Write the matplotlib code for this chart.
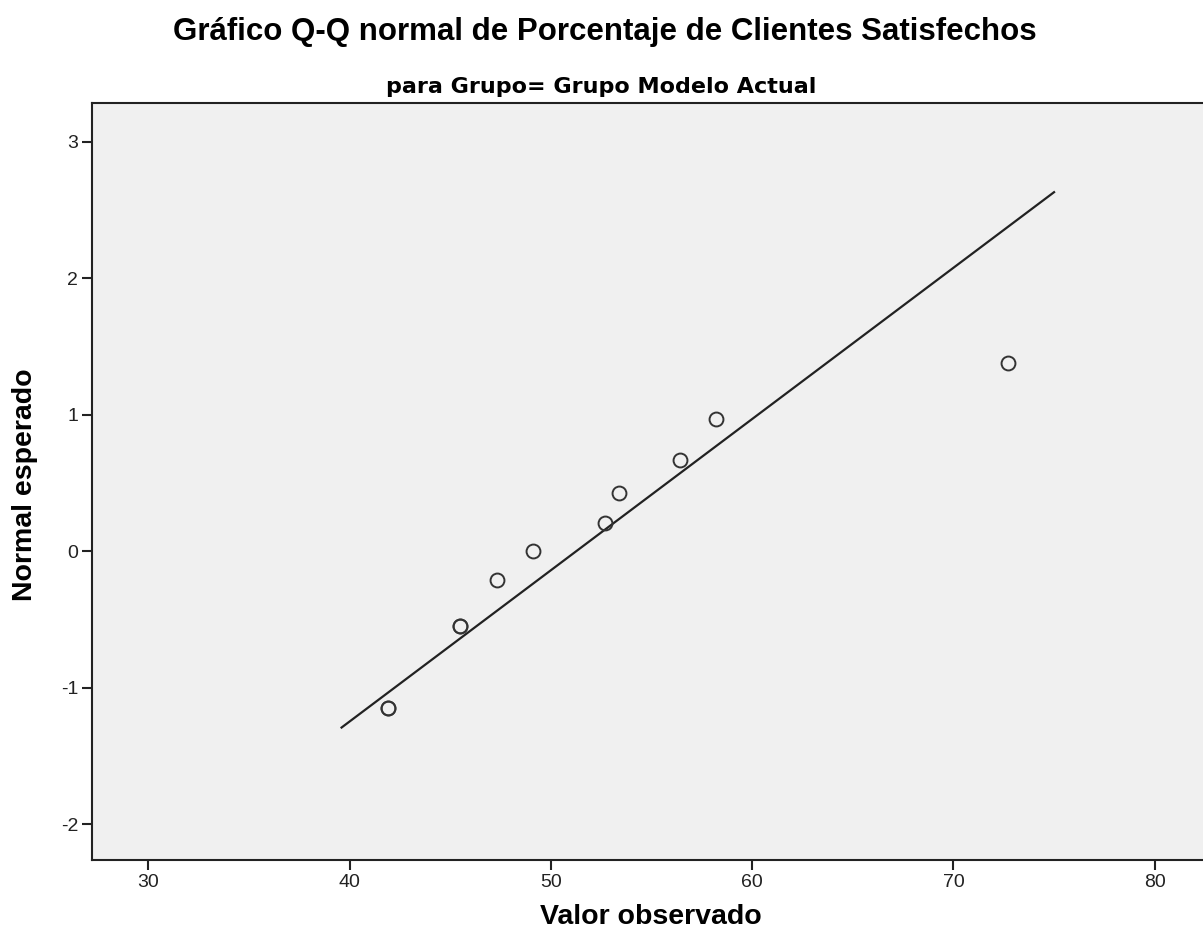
import matplotlib
matplotlib.use("Agg")
import matplotlib.pyplot as plt

observed = [41.9, 41.9, 45.5, 45.5, 47.3, 49.1, 52.7, 53.4, 56.4, 58.2, 72.7]
expected = [-1.15, -1.15, -0.55, -0.55, -0.21, 0.0, 0.21, 0.43, 0.67, 0.97, 1.38]

# reference line endpoints
line_x = [39.6, 75.0]
line_y = [-1.29, 2.63]

x_ticks = [30, 40, 50, 60, 70, 80]
y_ticks = [-2, -1, 0, 1, 2, 3]

plt.rcParams["font.family"] = ["Liberation Sans", "DejaVu Sans"]
plt.rcParams["axes.unicode_minus"] = False

fig = plt.figure(figsize=(12.03, 9.47), dpi=100)
W, H = 1203, 947
ax = fig.add_axes([92 / W, 1 - 860 / H, (1205 - 92) / W, (860 - 103) / H])
ax.set_facecolor("#f0f0f0")

ax.plot(line_x, line_y, color="#222222", linewidth=1.6, zorder=2)
ax.plot(observed, expected, linestyle="none", marker="o", markersize=10,
        markerfacecolor="none", markeredgecolor="#333333", markeredgewidth=1.4, zorder=3)

ax.set_xlim(27.2, 82.5)
ax.set_ylim(-2.26, 3.283)
ax.set_xticks(x_ticks)
ax.set_yticks(y_ticks)
ax.tick_params(direction="out", length=7, width=1.5, color="#222222",
               labelsize=14, labelcolor="#222222", pad=3)
for side in ["left", "bottom", "top"]:
    ax.spines[side].set_linewidth(1.5)
    ax.spines[side].set_color("#222222")
ax.spines["right"].set_visible(False)

fig.text(651 / W, 1 - 917 / H, "Valor observado", ha="center", va="center",
         fontsize=20.5, fontweight="bold")
fig.text(25 / W, 1 - 485 / H, "Normal esperado", ha="center", va="center",
         rotation=90, fontsize=20.5, fontweight="bold")

fig.text(605 / W, 1 - 32 / H, "Gráfico Q-Q normal de Porcentaje de Clientes Satisfechos",
         ha="center", va="center", fontsize=22.5, fontweight="bold")
fig.text(601 / W, 1 - 87 / H, "para Grupo= Grupo Modelo Actual",
         ha="center", va="center", fontsize=16, fontweight="bold",
         family=["DejaVu Sans"])

fig.savefig("out.png", dpi=100)
